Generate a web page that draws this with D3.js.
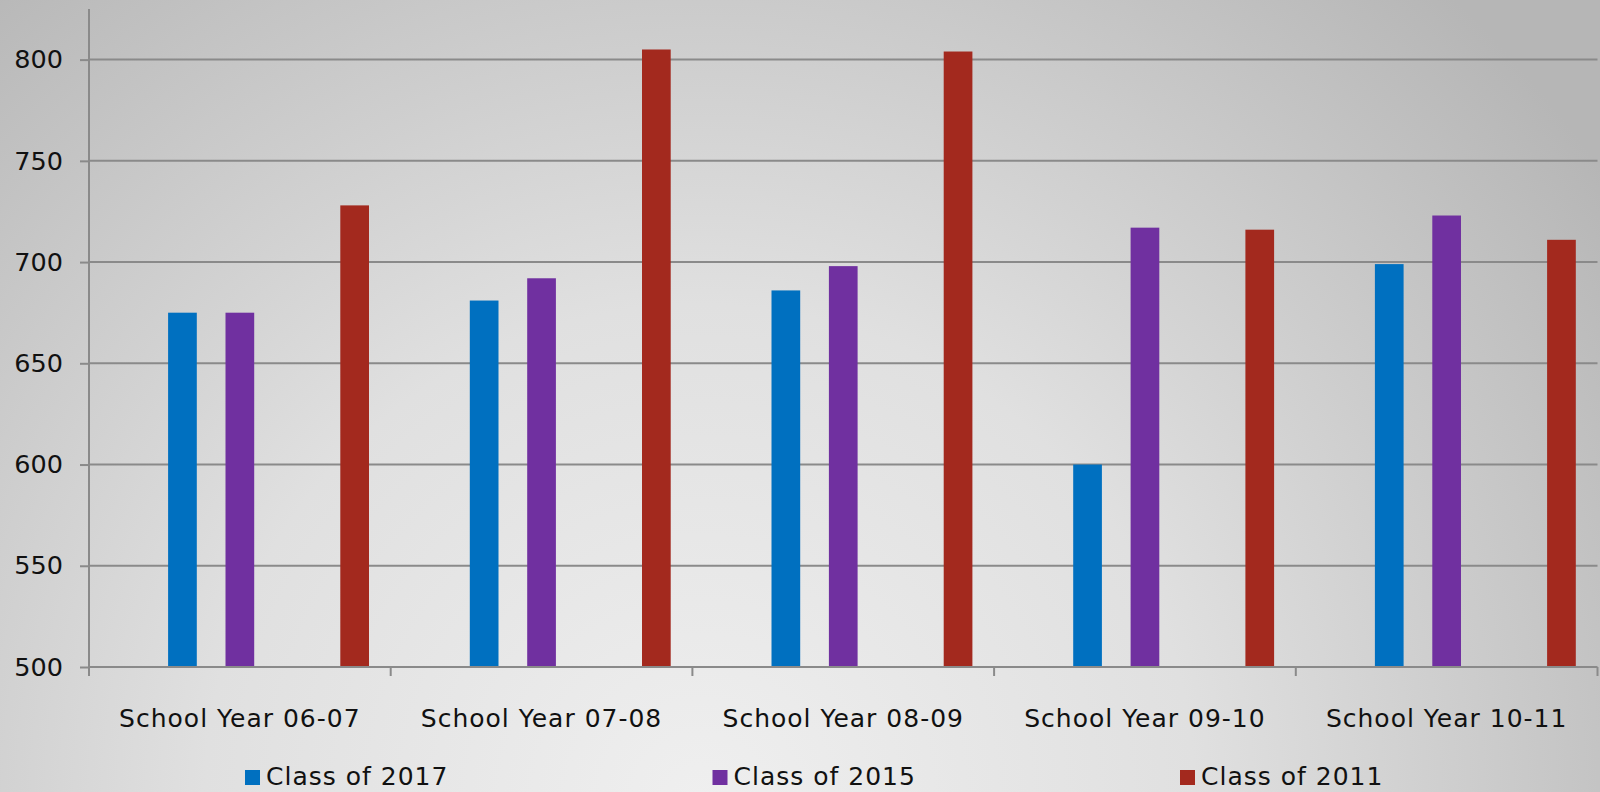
<!doctype html>
<html>
<head>
<style>
body { margin: 0; }
text { font-family: "DejaVu Sans", sans-serif; fill: #111; }
</style>
<script src="https://d3js.org/d3.v7.min.js"></script>
</head>
<body>
<svg width="1600" height="792"></svg>
<script>
var categories = ["School Year 06-07", "School Year 07-08", "School Year 08-09", "School Year 09-10", "School Year 10-11"];
// slots include two empty series, as in the original chart
var slots = ["", "Class of 2017", "Class of 2015", " ", "Class of 2011"];
var legendNames = ["Class of 2017", "Class of 2015", "Class of 2011"];
var colors = {"Class of 2017": "#0070c0", "Class of 2015": "#7030a0", "Class of 2011": "#a3291e"};
var class2017 = [675, 681, 686, 600, 699];
var class2015 = [675, 692, 698, 717, 723];
var class2011 = [728, 805, 804, 716, 711];
var yTicks = [500, 550, 600, 650, 700, 750, 800];

var svg = d3.select("svg");
var defs = svg.append("defs");
var grad = defs.append("radialGradient").attr("id", "bg")
	.attr("gradientUnits", "userSpaceOnUse")
	.attr("cx", 700).attr("cy", 800).attr("r", 1100);
grad.append("stop").attr("offset", "0").attr("stop-color", "#efefef");
grad.append("stop").attr("offset", "0.45").attr("stop-color", "#e0e0e0");
grad.append("stop").attr("offset", "1").attr("stop-color", "#b6b6b6");
svg.append("rect").attr("width", 1600).attr("height", 792).attr("fill", "url(#bg)");

var mLeft = 89, mRight = 1597.5, mTop = 9, mBottom = 667;
var x = d3.scaleBand().domain(categories).range([mLeft, mRight]);
var xs = d3.scaleBand().domain(slots).range([0, x.bandwidth()]).paddingInner(0.5).paddingOuter(0.378);
var y = d3.scaleLinear().domain([500, 825]).range([mBottom, mTop]);

// gridlines
svg.append("g").selectAll("line").data(yTicks.slice(1)).enter().append("line")
	.attr("x1", mLeft).attr("x2", mRight)
	.attr("y1", function(d) { return y(d); }).attr("y2", function(d) { return y(d); })
	.attr("stroke", "#8a8a8a").attr("stroke-width", 2);

var series = [
	{name: "Class of 2017", values: class2017},
	{name: "Class of 2015", values: class2015},
	{name: "Class of 2011", values: class2011}
];
series.forEach(function(s) {
	svg.append("g").selectAll("rect").data(s.values).enter().append("rect")
		.attr("x", function(d, i) { return x(categories[i]) + xs(s.name); })
		.attr("width", xs.bandwidth())
		.attr("y", function(d) { return y(d); })
		.attr("height", function(d) { return y(500) - y(d); })
		.attr("fill", colors[s.name]);
});

// y axis
var yAxis = svg.append("g").attr("transform", "translate(" + mLeft + ",0)")
	.call(d3.axisLeft(y).tickValues(yTicks).tickSize(9).tickPadding(17));
yAxis.select(".domain").remove();
yAxis.selectAll("line").attr("stroke", "#8a8a8a").attr("stroke-width", 2);
yAxis.selectAll("text").attr("font-size", 25.5).attr("font-family", "DejaVu Sans").attr("fill", "#111");
svg.append("line").attr("x1", mLeft).attr("x2", mLeft).attr("y1", mTop).attr("y2", mBottom + 9)
	.attr("stroke", "#8a8a8a").attr("stroke-width", 2);

// x axis
var xAxis = svg.append("g").attr("transform", "translate(0," + mBottom + ")")
	.call(d3.axisBottom(x).tickSize(0).tickPadding(42));
xAxis.select(".domain").attr("stroke", "#8a8a8a").attr("stroke-width", 2)
	.attr("d", "M" + mLeft + ",0H" + mRight);
xAxis.selectAll("text").attr("font-size", 25).attr("letter-spacing", 1)
	.attr("font-family", "DejaVu Sans").attr("fill", "#111");
var bounds = categories.map(function(c) { return x(c); }).concat([mRight]);
svg.append("g").selectAll("line").data(bounds).enter().append("line")
	.attr("x1", function(d) { return d; }).attr("x2", function(d) { return d; })
	.attr("y1", mBottom).attr("y2", mBottom + 9)
	.attr("stroke", "#8a8a8a").attr("stroke-width", 2);

// legend
var legendX = d3.scalePoint().domain(legendNames).range([245, 1180]);
var lg = svg.append("g").selectAll("g").data(legendNames).enter().append("g")
	.attr("transform", function(d) { return "translate(" + legendX(d) + ",770)"; });
lg.append("rect").attr("width", 15).attr("height", 15).attr("fill", function(d) { return colors[d]; });
lg.append("text").attr("x", 21).attr("y", 15).attr("font-size", 25).attr("letter-spacing", 1)
	.text(function(d) { return d; });
</script>
</body>
</html>
